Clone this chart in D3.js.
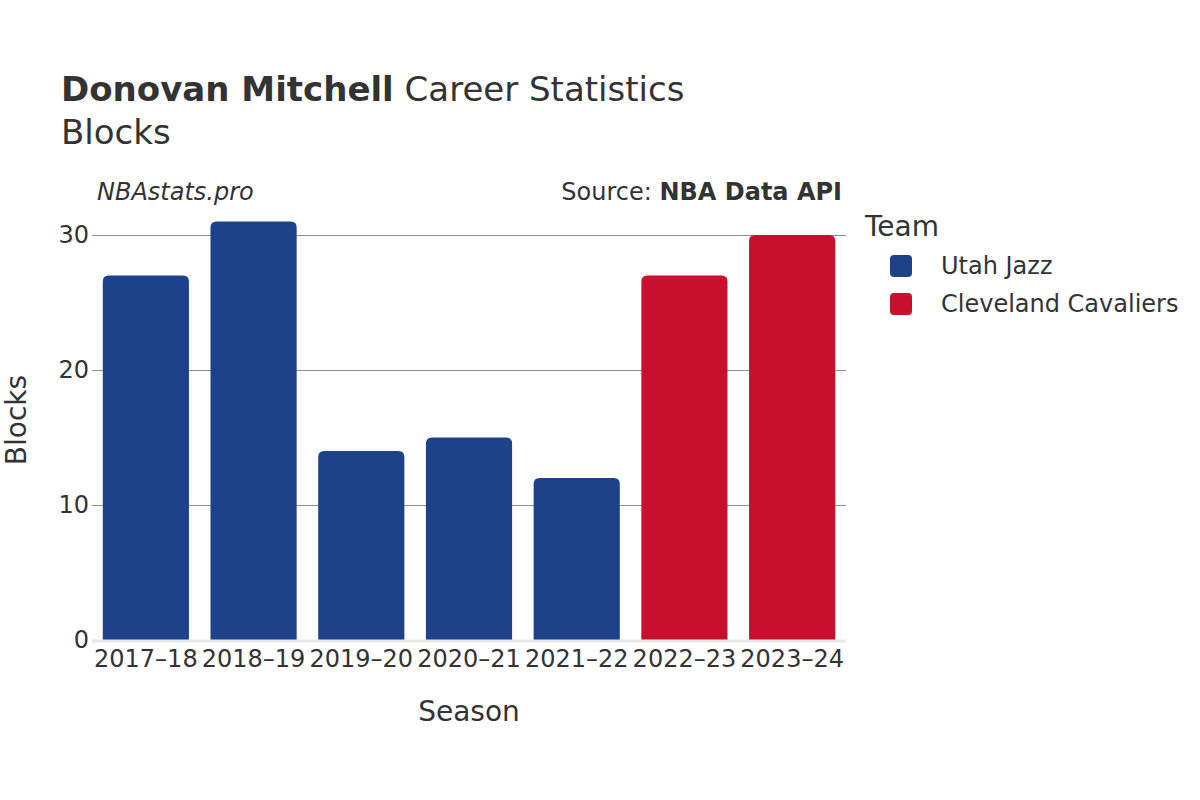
<!DOCTYPE html>
<html><head><meta charset="utf-8">
<script src="https://cdn.jsdelivr.net/npm/d3@7"></script>
<style>body{margin:0;background:#fff;}svg{display:block;font-family:"DejaVu Sans",sans-serif;}</style>
</head><body>
<script>
const seasons = ["2017–18","2018–19","2019–20","2020–21","2021–22","2022–23","2023–24"];
const blocks = [27,31,14,15,12,27,30];
const teams = ["Utah Jazz","Utah Jazz","Utah Jazz","Utah Jazz","Utah Jazz","Cleveland Cavaliers","Cleveland Cavaliers"];
const teamNames = ["Utah Jazz","Cleveland Cavaliers"];
const teamColors = ["#1d428a","#c8102e"];
const yTicks = [0,10,20,30];

const W=1200,H=800;
const svg=d3.select("body").append("svg").attr("width",W).attr("height",H);
const x=d3.scaleBand().domain(seasons).range([92,846]).paddingInner(0.2).paddingOuter(0.1);
const y=d3.scaleLinear().domain([0,30]).range([640,235]);
const color=d3.scaleOrdinal().domain(teamNames).range(teamColors);
const txt="#333";

// grid
svg.append("g").selectAll("line").data(yTicks.filter(d=>d>0)).join("line")
  .attr("x1",92).attr("x2",846).attr("y1",d=>y(d)+0.5).attr("y2",d=>y(d)+0.5)
  .attr("stroke","#8f8f8f").attr("stroke-width",1).attr("shape-rendering","crispEdges");

// bars with rounded tops
const r=6;
svg.append("g").selectAll("path").data(seasons).join("path")
  .attr("d",(s,i)=>{const x0=x(s),w=x.bandwidth(),y0=y(blocks[i]),y1=y(0);
    return `M${x0},${y1}V${y0+r}Q${x0},${y0} ${x0+r},${y0}H${x0+w-r}Q${x0+w},${y0} ${x0+w},${y0+r}V${y1}Z`;})
  .attr("fill",(s,i)=>color(teams[i]));

// zero line
svg.append("line").attr("x1",92).attr("x2",846).attr("y1",y(0)+1).attr("y2",y(0)+1)
  .attr("stroke","#e8e8e8").attr("stroke-width",3);

// y ticks
svg.append("g").selectAll("text").data(yTicks).join("text")
  .attr("x",89).attr("y",d=>y(d)).attr("dy","0.35em").attr("text-anchor","end")
  .attr("font-size",24).attr("fill",txt).text(d=>d);
// x ticks
svg.append("g").selectAll("text").data(seasons).join("text")
  .attr("x",d=>x(d)+x.bandwidth()/2).attr("y",667).attr("text-anchor","middle")
  .attr("font-size",24).attr("fill",txt).text(d=>d);

// axis titles
svg.append("text").attr("x",469).attr("y",721).attr("text-anchor","middle").attr("font-size",28).attr("fill",txt).text("Season");
svg.append("text").attr("transform","translate(26,420) rotate(-90)").attr("text-anchor","middle").attr("font-size",28).attr("fill",txt).text("Blocks");

// title
const t=svg.append("text").attr("x",61).attr("y",101).attr("font-size",34).attr("fill",txt);
t.append("tspan").attr("font-weight","bold").text("Donovan Mitchell");
t.append("tspan").text(" Career Statistics");
svg.append("text").attr("x",61).attr("y",144).attr("font-size",34).attr("fill",txt).text("Blocks");

// watermark & source
svg.append("text").attr("x",97).attr("y",200).attr("font-size",24).attr("font-style","italic").attr("fill",txt).text("NBAstats.pro");
const s=svg.append("text").attr("x",842).attr("y",200).attr("text-anchor","end").attr("font-size",24).attr("fill",txt);
s.append("tspan").text("Source: ");
s.append("tspan").attr("font-weight","bold").text("NBA Data API");

// legend
svg.append("text").attr("x",865).attr("y",236).attr("font-size",28).attr("fill",txt).text("Team");
const lg=svg.append("g").selectAll("g").data(teamNames).join("g")
  .attr("transform",(d,i)=>`translate(890,${255+i*38})`);
lg.append("rect").attr("width",22).attr("height",22).attr("rx",4).attr("fill",d=>color(d));
lg.append("text").attr("x",51).attr("y",11).attr("dy","0.35em").attr("font-size",24).attr("fill",txt).text(d=>d);
</script>
</body></html>
